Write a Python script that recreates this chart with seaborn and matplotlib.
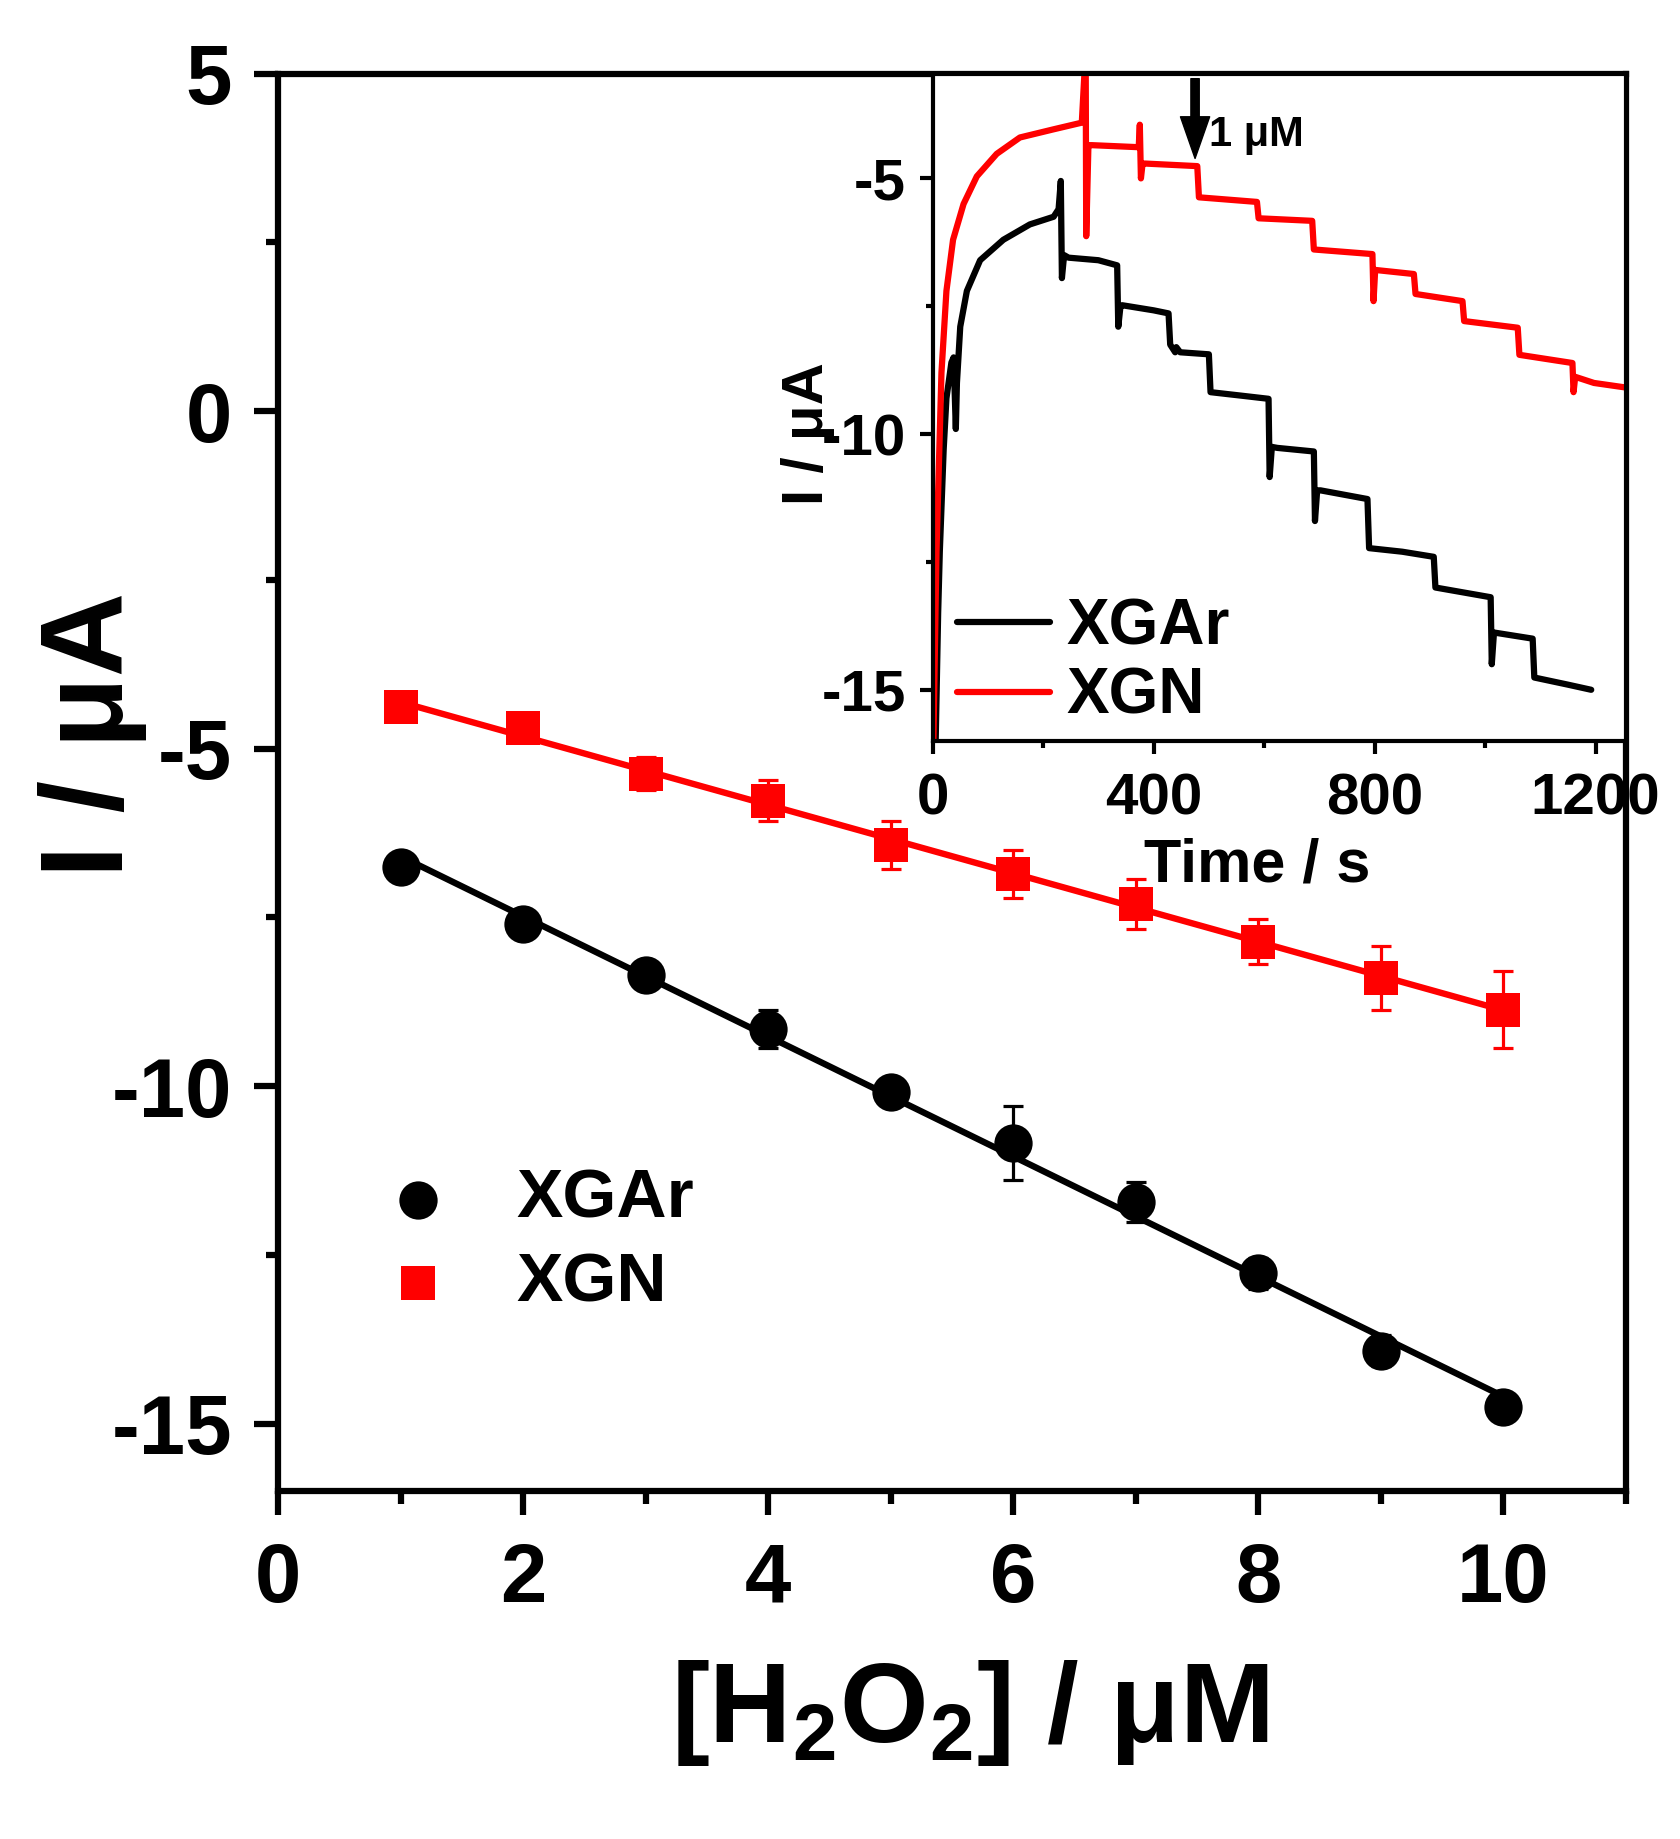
import matplotlib
matplotlib.use('Agg')
import matplotlib.pyplot as plt
import numpy as np
import pandas as pd
import seaborn as sns
from matplotlib.ticker import MultipleLocator

# calibration: current vs H2O2 concentration
conc = [1, 2, 3, 4, 5, 6, 7, 8, 9, 10]
i_xgar = [-6.76, -7.60, -8.36, -9.16, -10.09, -10.84, -11.72, -12.77, -13.92, -14.76]
err_xgar = [0.10, 0.10, 0.15, 0.28, 0.10, 0.55, 0.30, 0.23, 0.23, 0.10]
i_xgn = [-4.39, -4.70, -5.37, -5.77, -6.43, -6.86, -7.30, -7.86, -8.40, -8.87]
err_xgn = [0.10, 0.12, 0.25, 0.30, 0.35, 0.35, 0.37, 0.33, 0.47, 0.57]

# inset: amperometric response (time / s, current / uA)
t_xgar = [5, 10, 13, 20, 25, 34, 38, 42, 44, 50, 62, 86, 128, 176, 219, 228, 232, 234, 238, 246,
          300, 334, 336, 340, 343, 400, 427, 430, 439, 441, 448, 500, 503, 560, 608, 610, 614, 624,
          690, 692, 696, 702, 787, 790, 850, 907, 910, 1010, 1012, 1016, 1086, 1089, 1150, 1192]
cur_xgar = [-16.3, -13.5, -12.3, -10.3, -9.3, -8.6, -8.5, -9.9, -9.0, -7.9, -7.2, -6.6, -6.2, -5.9, -5.75, -5.6, -5.05, -6.95, -6.5, -6.55,
            -6.6, -6.7, -7.9, -7.5, -7.48, -7.58, -7.64, -8.25, -8.4, -8.3, -8.4, -8.44, -9.18, -9.25, -9.31, -10.84, -10.25, -10.27,
            -10.34, -11.7, -11.1, -11.1, -11.27, -12.23, -12.3, -12.4, -13.0, -13.19, -14.5, -13.88, -14.0, -14.76, -14.9, -15.0]
t_xgn = [1, 7, 16, 25, 37, 56, 80, 116, 158, 219, 270, 277, 278, 282, 288, 373, 375, 377, 380, 385,
         479, 482, 587, 590, 687, 690, 796, 798, 801, 871, 874, 959, 962, 1059, 1062, 1158, 1160, 1163, 1197, 1255]
cur_xgn = [-16.3, -12.3, -8.8, -7.2, -6.2, -5.5, -4.96, -4.52, -4.2, -4.04, -3.91, -2.5, -6.13, -4.35, -4.35, -4.39, -3.95, -5.0, -4.71, -4.71,
           -4.76, -5.37, -5.46, -5.78, -5.83, -6.39, -6.48, -7.4, -6.79, -6.87, -7.26, -7.4, -7.79, -7.92, -8.45, -8.61, -9.18, -8.88, -9.0, -9.09]

sns.set_style('ticks')
plt.rcParams['font.family'] = ['Liberation Sans', 'DejaVu Sans']
plt.rcParams['font.weight'] = 'bold'
plt.rcParams['mathtext.fontset'] = 'custom'
plt.rcParams['mathtext.rm'] = 'Liberation Sans:bold'
plt.rcParams['mathtext.bf'] = 'Liberation Sans:bold'
plt.rcParams['mathtext.it'] = 'Liberation Sans:bold'
plt.rcParams['mathtext.default'] = 'rm'
plt.rcParams['axes.unicode_minus'] = False
for k in ['text.color', 'axes.labelcolor', 'xtick.color', 'ytick.color', 'axes.edgecolor']:
    plt.rcParams[k] = 'black'

fig = plt.figure(figsize=(16.81, 18.39), dpi=100)
ax = fig.add_axes([0.1654, 0.1892, 0.8019, 0.7708])

df = pd.DataFrame({'conc': conc * 2,
                   'current': i_xgar + i_xgn,
                   'err': err_xgar + err_xgn,
                   'sample': ['XGAr'] * 10 + ['XGN'] * 10})

styles = {'XGAr': ('black', 'o', 760), 'XGN': ('red', 's', 590)}
for name, (color, marker, size) in styles.items():
    sub = df[df['sample'] == name]
    sns.regplot(data=sub, x='conc', y='current', scatter=False, ci=None, color=color,
                line_kws={'lw': 4.6, 'zorder': 2}, ax=ax)
    ax.errorbar(sub['conc'], sub['current'], yerr=sub['err'], fmt='none', ecolor=color,
                elinewidth=2.3, capsize=7, capthick=2.3, zorder=3)
    sns.scatterplot(data=sub, x='conc', y='current', color=color, marker=marker, s=size,
                    linewidth=0, ax=ax, label=name, zorder=4)

ax.set_xlim(0, 11)
ax.set_ylim(-16, 5)
ax.xaxis.set_major_locator(MultipleLocator(2))
ax.xaxis.set_minor_locator(MultipleLocator(1))
ax.yaxis.set_major_locator(MultipleLocator(5))
ax.yaxis.set_minor_locator(MultipleLocator(2.5))
ax.tick_params(which='major', direction='out', length=17, width=4.5, labelsize=60, top=False, right=False)
ax.tick_params(which='minor', direction='out', length=9, width=4.5, top=False, right=False)
ax.tick_params(axis='x', which='major', pad=19)
ax.tick_params(axis='y', which='major', pad=16)
for s in ax.spines.values():
    s.set_linewidth(4.5)
    s.set_color('black')

ax.set_xlabel(r'[H$_2$O$_2$] / μM', fontsize=82, fontweight='bold')
ax.xaxis.set_label_coords(0.513, -0.118)
ax.set_ylabel('I / μA', fontsize=84, fontweight='bold')
ax.yaxis.set_label_coords(-0.097, 0.534)

ax.legend(loc='center left', bbox_to_anchor=(0.078, 0.176), frameon=False, fontsize=50,
          handlelength=1.0, handletextpad=0.92, labelspacing=0.28, borderpad=0, borderaxespad=0)

# inset
axin = fig.add_axes([0.5548, 0.5971, 0.4125, 0.3629])
dfi = pd.DataFrame({'time': t_xgar + t_xgn,
                    'current': cur_xgar + cur_xgn,
                    'sample': ['XGAr'] * len(t_xgar) + ['XGN'] * len(t_xgn)})
sns.lineplot(data=dfi, x='time', y='current', hue='sample', palette={'XGAr': 'black', 'XGN': 'red'},
             sort=False, estimator=None, lw=4.5, ax=axin)
axin.set_xlim(0, 1255)
axin.set_ylim(-16, -2.95)
axin.xaxis.set_major_locator(MultipleLocator(400))
axin.xaxis.set_minor_locator(MultipleLocator(200))
axin.yaxis.set_major_locator(MultipleLocator(5))
axin.yaxis.set_minor_locator(MultipleLocator(2.5))
axin.tick_params(which='major', direction='out', length=9.5, width=3, labelsize=42, top=False, right=False)
axin.tick_params(which='minor', direction='out', length=5, width=3, top=False, right=False)
axin.tick_params(axis='x', which='major', pad=13)
axin.tick_params(axis='y', which='major', pad=9.5)
for s in axin.spines.values():
    s.set_linewidth(3)
    s.set_color('black')

axin.set_xlabel('Time / s', fontsize=44, fontweight='bold')
axin.xaxis.set_label_coords(0.468, -0.145)
axin.set_ylabel('I / μA', fontsize=42, fontweight='bold')
axin.yaxis.set_label_coords(-0.141, 0.46)

handles, labels = axin.get_legend_handles_labels()
leg = axin.legend(handles, labels, loc='center left', bbox_to_anchor=(0.035, 0.118), frameon=False,
                  fontsize=46, handlelength=1.46, handletextpad=0.26, labelspacing=0.15,
                  borderpad=0, borderaxespad=0)
for ln in leg.get_lines():
    ln.set_linewidth(4.5)

axin.annotate('', xy=(475, -4.61), xytext=(475, -3.05),
              arrowprops=dict(facecolor='black', edgecolor='black', width=6, headwidth=21,
                              headlength=30, shrink=0))
axin.text(500, -4.36, '1 μM', fontsize=30, fontweight='bold', va='baseline')

fig.savefig('out.png', dpi=100)
